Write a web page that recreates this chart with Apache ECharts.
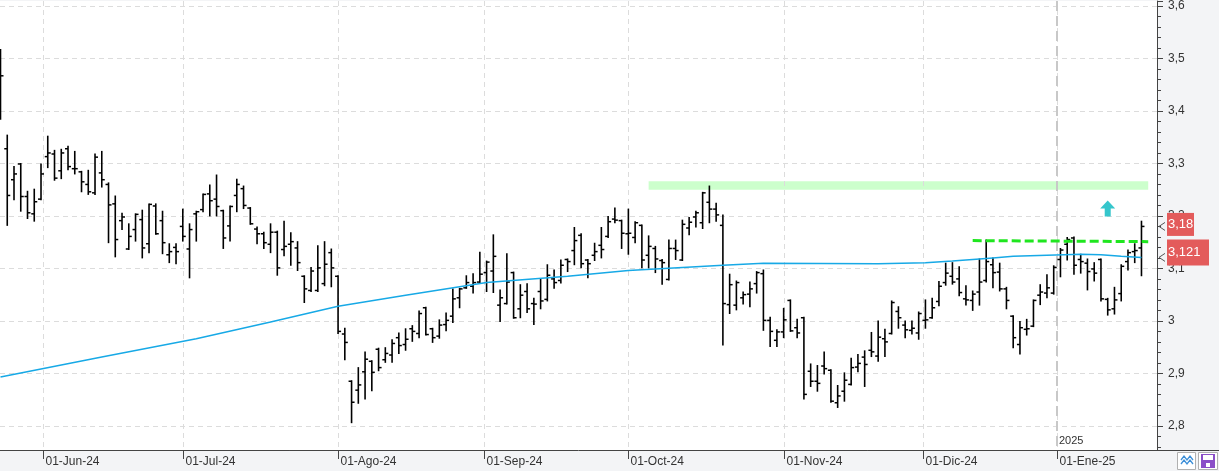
<!DOCTYPE html>
<html>
<head>
<meta charset="utf-8">
<script src="https://cdn.jsdelivr.net/npm/echarts@6/dist/echarts.min.js"></script>
<style>html,body{margin:0;padding:0;background:#f3f4f6}#c{width:1219px;height:471px}</style>
</head>
<body>
<div id="c"></div>
<script>
// ---- data (index = trading day, 0 = 23-May-24) ----
const opens = [3.50,3.328,3.269,3.299,3.237,3.204,3.232,3.313,3.318,3.286,3.328,3.290,3.284,3.260,3.244,3.282,3.260,3.223,3.191,3.137,
3.174,3.193,3.147,3.219,3.191,3.126,3.140,3.180,3.137,3.204,3.212,3.242,3.232,3.210,3.181,3.239,3.252,3.215,3.175,3.166,
3.146,3.169,3.136,3.146,3.139,3.085,3.058,3.058,3.071,3.130,3.085,2.975,2.885,2.868,2.903,2.923,2.946,2.926,2.935,2.968,
2.955,2.985,2.976,3.025,2.985,2.971,2.993,3.009,3.044,3.063,3.066,3.074,3.092,3.095,3.030,3.033,3.092,3.023,3.056,3.033,
3.056,3.041,3.080,3.077,3.117,3.134,3.163,3.116,3.125,3.144,3.161,3.194,3.191,3.166,3.159,3.182,3.125,3.138,3.115,3.079,
3.138,3.116,3.177,3.198,3.187,3.226,3.213,3.182,3.031,3.030,3.044,3.051,3.071,3.090,3.001,2.963,2.979,3.039,2.987,3.006,
2.904,2.885,2.914,2.906,2.844,2.866,2.879,2.912,2.931,2.944,2.933,2.966,2.976,3.018,2.992,2.982,2.977,3.001,3.006,3.037,
3.073,3.085,3.080,3.042,3.039,3.055,3.077,3.107,3.093,3.061,3.009,2.955,2.984,2.990,3.049,3.053,3.053,3.117,3.146,3.158,
3.117,3.110,3.099,3.117,3.041,3.023,3.052,3.113,3.132,3.139];
const highs = [3.516,3.353,3.293,3.299,3.246,3.250,3.298,3.351,3.324,3.326,3.332,3.322,3.284,3.286,3.317,3.322,3.262,3.237,3.204,3.184,
3.203,3.210,3.222,3.222,3.208,3.146,3.146,3.212,3.184,3.208,3.241,3.258,3.277,3.210,3.218,3.269,3.256,3.215,3.178,3.168,
3.184,3.170,3.189,3.167,3.150,3.085,3.101,3.142,3.150,3.136,3.085,2.985,2.885,2.910,2.940,2.923,2.947,2.948,2.963,2.976,
2.984,2.990,3.018,3.025,2.985,3.001,3.014,3.060,3.061,3.085,3.089,3.130,3.113,3.163,3.058,3.127,3.092,3.068,3.070,3.042,
3.079,3.106,3.096,3.115,3.117,3.177,3.165,3.116,3.147,3.177,3.198,3.214,3.191,3.212,3.188,3.182,3.161,3.141,3.116,3.153,
3.153,3.191,3.196,3.208,3.244,3.256,3.223,3.201,3.088,3.075,3.054,3.073,3.093,3.096,3.006,2.982,3.023,3.039,3.002,3.006,
2.917,2.914,2.940,2.906,2.876,2.900,2.928,2.935,2.942,2.977,2.999,2.983,3.037,3.026,2.999,2.999,3.016,3.039,3.042,3.074,
3.109,3.110,3.102,3.066,3.056,3.117,3.153,3.119,3.109,3.063,3.009,2.998,3.002,3.039,3.068,3.087,3.104,3.137,3.158,3.159,
3.126,3.117,3.110,3.117,3.042,3.063,3.106,3.134,3.146,3.189];
const lows = [3.385,3.183,3.232,3.210,3.196,3.191,3.232,3.293,3.269,3.272,3.289,3.281,3.247,3.242,3.242,3.256,3.150,3.123,3.175,3.137,
3.153,3.121,3.131,3.166,3.129,3.112,3.110,3.153,3.083,3.153,3.209,3.201,3.201,3.139,3.153,3.209,3.215,3.185,3.148,3.139,
3.131,3.088,3.125,3.107,3.097,3.036,3.057,3.057,3.068,3.066,2.977,2.927,2.807,2.844,2.852,2.868,2.906,2.922,2.922,2.939,
2.945,2.962,2.969,2.974,2.960,2.968,2.982,2.998,3.026,3.063,3.054,3.074,3.057,3.055,3.000,3.033,3.006,3.007,3.017,2.994,
3.024,3.039,3.063,3.073,3.095,3.108,3.102,3.083,3.116,3.121,3.160,3.188,3.139,3.128,3.150,3.102,3.102,3.093,3.071,3.079,
3.118,3.116,3.165,3.180,3.177,3.188,3.191,2.955,3.015,3.022,3.033,3.028,3.054,2.983,2.952,2.952,2.969,2.981,2.969,2.852,
2.876,2.867,2.900,2.846,2.836,2.848,2.879,2.904,2.876,2.933,2.924,2.933,2.976,2.987,2.969,2.976,2.966,2.987,3.006,3.030,
3.069,3.071,3.049,3.031,3.021,3.031,3.075,3.064,3.058,3.024,2.950,2.938,2.974,2.990,3.032,3.045,3.052,3.085,3.117,3.090,
3.092,3.060,3.077,3.039,3.012,3.014,3.039,3.098,3.112,3.087];
const closes = [3.467,3.239,3.280,3.237,3.206,3.227,3.280,3.320,3.272,3.320,3.294,3.290,3.265,3.246,3.312,3.269,3.221,3.155,3.198,3.161,
3.203,3.139,3.222,3.166,3.149,3.132,3.132,3.161,3.174,3.208,3.241,3.229,3.218,3.158,3.218,3.260,3.220,3.185,3.166,3.149,
3.169,3.101,3.142,3.151,3.111,3.061,3.095,3.101,3.108,3.101,2.980,2.959,2.845,2.878,2.927,2.902,2.911,2.938,2.957,2.953,
2.965,2.980,3.014,2.974,2.968,2.992,3.001,3.042,3.061,3.073,3.073,3.089,3.112,3.123,3.044,3.074,3.006,3.049,3.023,3.032,
3.038,3.087,3.073,3.106,3.113,3.153,3.109,3.109,3.132,3.136,3.189,3.192,3.167,3.167,3.187,3.116,3.142,3.118,3.111,3.138,
3.134,3.184,3.188,3.206,3.244,3.213,3.202,3.033,3.069,3.073,3.050,3.061,3.092,3.001,2.980,2.979,3.002,2.981,2.977,2.860,
2.885,2.881,2.909,2.847,2.857,2.887,2.911,2.919,2.917,2.941,2.969,2.960,3.035,3.006,2.983,2.986,3.014,3.002,3.025,3.066,
3.091,3.074,3.054,3.040,3.051,3.074,3.113,3.092,3.061,3.039,2.968,2.987,2.985,3.039,3.055,3.063,3.102,3.135,3.155,3.106,
3.113,3.094,3.091,3.042,3.021,3.040,3.104,3.130,3.134,3.180];

// moving average read at sample bars
const maIdx  = [0,15,29,40,50,60,72,84,93,107,113,130,137,141,147,150,155,160,163,166,169];
const maVals = [2.893,2.931,2.966,2.998,3.028,3.049,3.073,3.085,3.096,3.106,3.110,3.109,3.111,3.114,3.120,3.123,3.125,3.127,3.126,3.123,3.121];

// month boundaries (fractional trading-day index) and labels
const monthPos = [6.33,27,50,71.67,93,116,136.67,156.5];
const monthLabels = ['01-Jun-24','01-Jul-24','01-Ago-24','01-Sep-24','01-Oct-24','01-Nov-24','01-Dic-24','01-Ene-25'];
const yearPos = [156.5];
const yearLabels = ['2025'];

// drawn annotations
const bandStart = 96, bandEnd = 170, bandLow = 3.250, bandHigh = 3.266;
const trendFrom = [144, 3.153], trendTo = [170, 3.151];
const arrowAt = [164, 3.214];

const Y_MIN = 2.754, Y_MAX = 3.6095;
const X_MIN = -0.074, X_MAX = 171.3;
const FONT = '"Liberation Sans", Arial, sans-serif';
const fmt = v => String(v).replace('.', ',');

const ohlc = opens.map((o, i) => [i, o, highs[i], lows[i], closes[i]]);
const ma = maIdx.map((x, i) => [x, maVals[i]]);
const lastClose = closes[closes.length - 1];
const lastMA = maVals[maVals.length - 1];

const chart = echarts.init(document.getElementById('c'), null, {renderer: 'canvas'});
chart.setOption({
  animation: false,
  backgroundColor: '#f3f4f6',
  grid: {left: 0, right: 62, top: 0, bottom: 21, show: true, backgroundColor: '#ffffff', borderWidth: 0},
  xAxis: {
    type: 'value', min: X_MIN, max: X_MAX,
    axisLine: {show: true, onZero: false, lineStyle: {color: '#444', width: 1}},
    axisTick: {show: false}, axisLabel: {show: false}, splitLine: {show: false}
  },
  yAxis: {
    type: 'value', position: 'right', min: Y_MIN, max: Y_MAX, splitNumber: 8, scale: true,
    axisLine: {show: true, onZero: false, lineStyle: {color: '#444', width: 1}},
    axisTick: {show: true, length: 6, lineStyle: {color: '#444'}},
    minorTick: {show: true, splitNumber: 5, length: 4, lineStyle: {color: '#444'}},
    axisLabel: {show: true, margin: 11, color: '#333', fontSize: 12, fontFamily: FONT,
      showMinLabel: false, showMaxLabel: false, formatter: v => fmt(+v.toFixed(2))},
    splitLine: {show: true, showMinLine: false, showMaxLine: false,
      lineStyle: {color: '#dcdcdc', type: [5, 4], width: 1}}
  },
  graphic: [
    {type: 'line', shape: {x1: 1157, y1: 450.5, x2: 1219, y2: 450.5}, style: {stroke: '#444', lineWidth: 1}},
    {type: 'rect', shape: {x: 1177.5, y: 452.5, width: 18, height: 17}, style: {fill: '#fff', stroke: '#b0b0b0'}},
    {type: 'polyline', shape: {points: [[1181,460],[1184,456],[1187,460],[1190,456],[1193,460]]}, style: {stroke: '#3d8fd8', lineWidth: 1.3, fill: null}},
    {type: 'polyline', shape: {points: [[1181,464],[1184,460],[1187,464],[1190,460],[1193,464]]}, style: {stroke: '#3d8fd8', lineWidth: 1.3, fill: null}},
    {type: 'rect', shape: {x: 1198.5, y: 452.5, width: 19, height: 17}, style: {fill: '#fff', stroke: '#b0b0b0'}},
    {type: 'rect', shape: {x: 1201, y: 454, width: 14, height: 14}, style: {fill: '#8b4fc8'}},
    {type: 'rect', shape: {x: 1203, y: 455, width: 10, height: 5}, style: {fill: '#fff'}},
    {type: 'rect', shape: {x: 1206, y: 463, width: 4, height: 4}, style: {fill: '#fff'}}
  ],
  series: [
    { // month gridlines, ticks and labels
      type: 'custom', z: 1, clip: false, silent: true,
      data: monthPos.map(p => [p, Y_MIN]), encode: {x: 0, y: 1},
      renderItem: (params, api) => {
        const x = api.value(0);
        const top = api.coord([x, Y_MAX]), bot = api.coord([x, Y_MIN]);
        const px = Math.round(top[0]) + 0.5;
        return {type: 'group', children: [
          {type: 'line', shape: {x1: px, y1: top[1], x2: px, y2: bot[1]}, style: {stroke: '#dcdcdc', lineDash: [5, 4], lineWidth: 1}},
          {type: 'line', shape: {x1: px, y1: bot[1], x2: px, y2: bot[1] + 9}, style: {stroke: '#444', lineWidth: 1}},
          {type: 'text', style: {text: monthLabels[params.dataIndex], x: px + 2, y: bot[1] + 12,
            fill: '#333', font: '12px ' + FONT, align: 'left', verticalAlign: 'middle'}}
        ]};
      }
    },
    { // year separator
      type: 'custom', z: 1, clip: false, silent: true,
      data: yearPos.map(p => [p, Y_MIN]), encode: {x: 0, y: 1},
      renderItem: (params, api) => {
        const x = api.value(0);
        const top = api.coord([x, Y_MAX]), bot = api.coord([x, Y_MIN]);
        const px = Math.round(top[0]);
        return {type: 'group', children: [
          {type: 'line', shape: {x1: px, y1: top[1], x2: px, y2: bot[1]}, style: {stroke: '#c8c8c8', lineDash: [10, 5], lineWidth: 2}},
          {type: 'text', style: {text: yearLabels[params.dataIndex], x: px + 2, y: bot[1] - 9,
            fill: '#333', font: '11px ' + FONT, align: 'left', verticalAlign: 'middle'}}
        ]};
      }
    },
    { // moving average + annotations
      type: 'line', z: 4, data: ma, symbol: 'none', silent: true,
      lineStyle: {color: '#17a9e6', width: 1.5},
      markArea: {silent: true, itemStyle: {color: '#ccffcc', opacity: 1},
        data: [[{xAxis: bandStart, yAxis: bandHigh}, {xAxis: bandEnd, yAxis: bandLow}]]},
      markLine: {silent: true, symbol: ['none', 'none'], label: {show: false},
        lineStyle: {color: '#1fe61f', width: 3, type: [9, 4]},
        data: [[{coord: trendFrom}, {coord: trendTo}]]},
      markPoint: {silent: true, label: {show: false},
        symbol: 'path://M5,0 L10,5.5 L7,5.5 L7,11 L3,11 L3,5.5 L0,5.5 Z', symbolSize: [15, 16],
        itemStyle: {color: '#35c6cc'},
        data: [{coord: arrowAt}]}
    },
    { // OHLC bars
      type: 'custom', z: 3, clip: true, silent: true,
      data: ohlc, encode: {x: 0, y: [1, 2, 3, 4]},
      renderItem: (params, api) => {
        const x = api.value(0);
        const pO = api.coord([x, api.value(1)]), pH = api.coord([x, api.value(2)]);
        const pL = api.coord([x, api.value(3)]), pC = api.coord([x, api.value(4)]);
        const px = pH[0];
        const st = {stroke: '#000', lineWidth: 1.6};
        return {type: 'group', children: [
          {type: 'line', shape: {x1: px, y1: pH[1] - 1, x2: px, y2: pL[1] + 1}, style: st},
          {type: 'line', shape: {x1: px - 3, y1: pO[1], x2: px, y2: pO[1]}, style: {stroke: '#000', lineWidth: 1.5}},
          {type: 'line', shape: {x1: px, y1: pC[1], x2: px + 3, y2: pC[1]}, style: {stroke: '#000', lineWidth: 1.5}}
        ]};
      }
    },
    { // last value tags on the price axis
      type: 'custom', z: 10, clip: false, silent: true,
      data: [[X_MAX, lastClose], [X_MAX, lastMA]], encode: {x: 0, y: 1},
      renderItem: (params, api) => {
        const p = api.coord([X_MAX, api.value(1)]);
        const shift = params.dataIndex === 0 ? -2 : -5;
        const w = params.dataIndex === 0 ? 27 : 42;
        const h = params.dataIndex === 0 ? 23 : 26;
        return {type: 'group', children: [
          {type: 'polyline', shape: {points: [[p[0] + 8, p[1] - 4], [p[0] + 2, p[1]], [p[0] + 8, p[1] + 4]]}, style: {stroke: '#555', lineWidth: 1, fill: null}},
          {type: 'rect', shape: {x: p[0] + 10, y: p[1] + shift - h / 2, width: w, height: h}, style: {fill: '#e35b5b'}},
          {type: 'text', style: {text: fmt(api.value(1)), x: p[0] + 11, y: p[1] + shift,
            fill: '#fff', font: '13px ' + FONT, align: 'left', verticalAlign: 'middle'}}
        ]};
      }
    }
  ]
});
</script>
</body>
</html>
